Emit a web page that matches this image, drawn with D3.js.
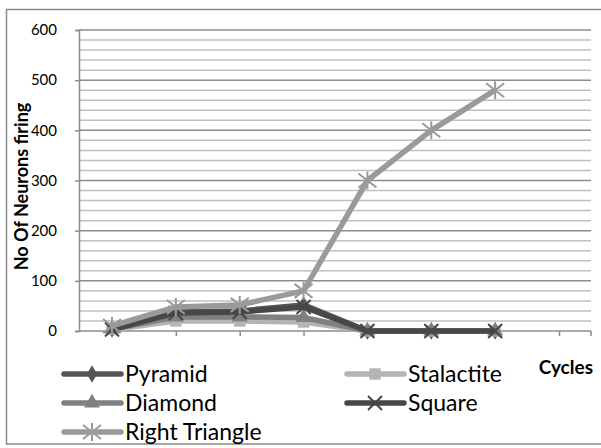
<!DOCTYPE html>
<html>
<head>
<meta charset="utf-8">
<script src="https://cdn.jsdelivr.net/npm/d3@7"></script>
<style>
  html, body { margin: 0; padding: 0; background: #fff; }
  text { font-family: Lato, "Open Sans", sans-serif; }
</style>
</head>
<body>
<script>
const categories = [1, 2, 3, 4, 5, 6, 7, 8];
const pyramid = [4, 38, 40, 52, 0, 0, 0];
const stalactite = [3, 20, 20, 18, 0, 0, 0];
const diamond = [4, 28, 28, 27, 0, 0, 0];
const square = [3, 36, 38, 48, 0, 0, 0];
const rightTriangle = [10, 48, 52, 80, 300, 400, 480];
const yTicks = [0, 100, 200, 300, 400, 500, 600];

const series = [
    { name: "Pyramid", values: pyramid, color: "#555555", marker: "diamond" },
    { name: "Stalactite", values: stalactite, color: "#b4b4b4", marker: "square" },
    { name: "Diamond", values: diamond, color: "#808080", marker: "triangle" },
    { name: "Square", values: square, color: "#474747", marker: "x" },
    { name: "Right Triangle", values: rightTriangle, color: "#9a9a9a", marker: "star" }
];

const width = 601, height = 448;
const plotLeft = 79, plotRight = 591, plotTop = 30, plotBottom = 331;

const svg = d3.select("body").append("svg")
    .attr("width", width)
    .attr("height", height);

// outer frame
svg.append("rect")
    .attr("x", 6.5).attr("y", 9.5)
    .attr("width", 600).attr("height", 434.5)
    .attr("fill", "none").attr("stroke", "#8a8a8a").attr("stroke-width", 1.5);

const x = d3.scalePoint().domain(categories).range([112, 559]);
const y = d3.scaleLinear().domain([0, 600]).range([plotBottom, plotTop]);

// gridlines: minor every 20, major every 100
const minor = d3.range(20, 601, 20).filter(v => v % 100 !== 0);
svg.append("g").selectAll("line").data(minor).join("line")
    .attr("x1", plotLeft).attr("x2", plotRight)
    .attr("y1", d => y(d)).attr("y2", d => y(d))
    .attr("stroke", "#c0c0c0").attr("stroke-width", 1.5);
svg.append("g").selectAll("line").data(yTicks.filter(v => v > 0)).join("line")
    .attr("x1", plotLeft).attr("x2", plotRight)
    .attr("y1", d => y(d)).attr("y2", d => y(d))
    .attr("stroke", "#8c8c8c").attr("stroke-width", 1.5);

// y axis
const yAxis = svg.append("g")
    .attr("transform", `translate(${plotLeft},0)`)
    .call(d3.axisLeft(y).tickValues(yTicks).tickSize(4).tickPadding(18));
yAxis.select(".domain").attr("stroke", "#8c8c8c").attr("stroke-width", 1.5);
yAxis.selectAll(".tick line").attr("stroke", "#8c8c8c").attr("stroke-width", 1.5);
yAxis.selectAll(".tick text")
    .style("font-family", "Lato, sans-serif").style("font-size", "15px").attr("fill", "#000");

// x axis
const xAxis = svg.append("g")
    .attr("transform", `translate(0,${plotBottom})`)
    .call(d3.axisBottom(x).tickSize(5).tickFormat(""));
xAxis.select(".domain").remove();
xAxis.selectAll(".tick line").attr("stroke", "#8c8c8c").attr("stroke-width", 1.5);
xAxis.append("line")
    .attr("x1", plotLeft).attr("x2", plotRight)
    .attr("stroke", "#8c8c8c").attr("stroke-width", 1.5);
xAxis.append("line")
    .attr("x1", plotRight).attr("x2", plotRight).attr("y1", 0).attr("y2", 5)
    .attr("stroke", "#8c8c8c").attr("stroke-width", 1.5);

// axis titles
svg.append("text")
    .attr("transform", `translate(28,${(plotTop + plotBottom) / 2 + 6}) rotate(-90)`)
    .attr("text-anchor", "middle")
    .style("font-size", "18px").style("font-weight", "bold")
    .text("No Of Neurons firing");
svg.append("text")
    .attr("x", 593).attr("y", 374)
    .attr("text-anchor", "end")
    .style("font-size", "19px").style("font-weight", "bold")
    .text("Cycles");

function markerPath(type) {
    if (type === "diamond") return d3.symbol(d3.symbolDiamond, 90)();
    if (type === "square") return d3.symbol(d3.symbolSquare, 130)();
    if (type === "triangle") return d3.symbol(d3.symbolTriangle, 110)();
    if (type === "x") return "M-7,-7L7,7M-7,7L7,-7";
    return "M-9,-7L9,7M-9,7L9,-7M0,-9L0,9";
}

function drawMarker(g, s) {
    const p = g.append("path").attr("d", markerPath(s.marker));
    if (s.marker === "x" || s.marker === "star") {
        p.attr("fill", "none").attr("stroke", s.color).attr("stroke-width", 2);
    } else {
        p.attr("fill", s.color);
    }
}

const line = d3.line().x((d, i) => x(categories[i])).y(d => y(d));

series.forEach(s => {
    svg.append("path")
        .datum(s.values)
        .attr("d", line)
        .attr("fill", "none")
        .attr("stroke", s.color)
        .attr("stroke-width", 5.5)
        .attr("stroke-linejoin", "round");
    s.values.forEach((v, i) => {
        const g = svg.append("g").attr("transform", `translate(${x(categories[i])},${y(v)})`);
        drawMarker(g, s);
    });
});

// legend
const legendPos = [
    [64, 374], [347, 374],
    [64, 403], [347, 403],
    [64, 432]
];
series.forEach((s, i) => {
    const [lx, ly] = legendPos[i];
    const g = svg.append("g").attr("transform", `translate(${lx},${ly})`);
    g.append("line").attr("x1", 0).attr("x2", 57)
        .attr("stroke", s.color).attr("stroke-width", 5.5).attr("stroke-linecap", "round");
    const m = g.append("g").attr("transform", "translate(28,0)");
    drawMarker(m, s);
    g.append("text").attr("x", 61).attr("y", 8)
        .style("font-size", "23px").attr("fill", "#000")
        .text(s.name);
});
</script>
</body>
</html>
